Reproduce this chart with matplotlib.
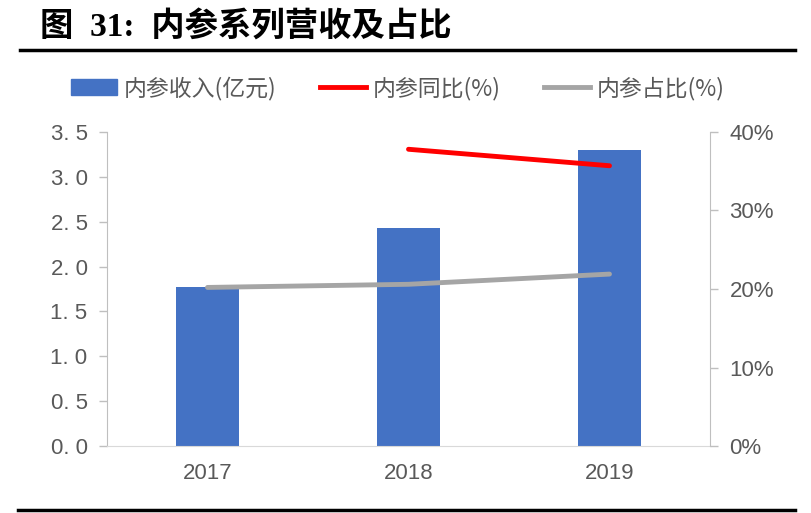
import matplotlib
matplotlib.use("Agg")
import matplotlib.pyplot as plt
from matplotlib.lines import Line2D
from matplotlib.patches import Patch
from matplotlib.ticker import FixedLocator

plt.rcParams['font.family'] = ['Noto Sans CJK SC', 'DejaVu Sans']

years = ['2017', '2018', '2019']
revenue = [1.77, 2.43, 3.30]
yoy = [None, 37.8, 35.7]
share = [20.2, 20.6, 21.9]
left_ticks = ['0. 0', '0. 5', '1. 0', '1. 5', '2. 0', '2. 5', '3. 0', '3. 5']
right_ticks = ['0%', '10%', '20%', '30%', '40%']

blue = '#4472C4'
red = '#FF0000'
gray = '#A5A5A5'
txt = '#595959'
spine = '#BFBFBF'
num_font = ['Liberation Sans', 'DejaVu Sans']

fig = plt.figure(figsize=(8.11, 5.13), dpi=100)
ax = fig.add_axes([107/811, 67/513, 603/811, 314/513])
x = list(range(len(years)))
ax.bar(x, revenue, width=0.31, color=blue, zorder=2)
ax.set_xlim(-0.5, 2.5)
ax.set_ylim(0, 3.5)
ax.yaxis.set_major_locator(FixedLocator([0, 0.5, 1, 1.5, 2, 2.5, 3, 3.5]))
ax.set_yticklabels(left_ticks, family=num_font)
ax.set_xticks(x)
ax.set_xticklabels(years, family=num_font)
ax.tick_params(axis='x', length=0, pad=12, labelsize=16, labelcolor=txt)
ax.tick_params(axis='y', length=6, width=1, color=spine, direction='out', labelsize=16, labelcolor=txt, pad=8)
ax.spines['top'].set_visible(False)
ax.spines['right'].set_visible(False)
ax.spines['left'].set_color(spine)
ax.spines['bottom'].set_color('#D9D9D9')

ax2 = ax.twinx()
ax2.set_ylim(0, 40)
ax2.yaxis.set_major_locator(FixedLocator([0, 10, 20, 30, 40]))
ax2.set_yticklabels(right_ticks, family=num_font)
ax2.tick_params(axis='y', length=6, width=1, color=spine, direction='out', labelsize=16, labelcolor=txt, pad=8)
for s in ['top', 'left', 'bottom']:
    ax2.spines[s].set_visible(False)
ax2.spines['right'].set_color(spine)
xs_y = [i for i, v in zip(x, yoy) if v is not None]
vs_y = [v for v in yoy if v is not None]
ax2.plot(xs_y, vs_y, color=red, lw=3.5, solid_capstyle='round', zorder=3)
ax2.plot(x, share, color=gray, lw=3.5, solid_capstyle='round', zorder=3)

handles = [Patch(color=blue), Line2D([], [], color=red, lw=3.5), Line2D([], [], color=gray, lw=3.5)]
labels = ['内参收入(亿元)', '内参同比(%)', '内参占比(%)']
fig.legend(handles, labels, loc='center', bbox_to_anchor=(398/811, 1 - 88/513), ncol=3,
           frameon=False, fontsize=16.5, labelcolor=txt, handlelength=2.0, handletextpad=0.3,
           columnspacing=1.9)

fig.text(40/811, 1 - 28/513, '图  31:  内参系列营收及占比', fontsize=24, fontweight='bold',
         family=['Liberation Serif', 'Noto Sans CJK SC'],
         va='center', ha='left', color='black')
fig.add_artist(Line2D([20/811, 795/811], [1 - 50/513, 1 - 50/513], color='black', lw=2.5))
fig.add_artist(Line2D([18/811, 795/811], [1 - 510/513, 1 - 510/513], color='black', lw=2.5))

fig.savefig('out.png', dpi=100)
